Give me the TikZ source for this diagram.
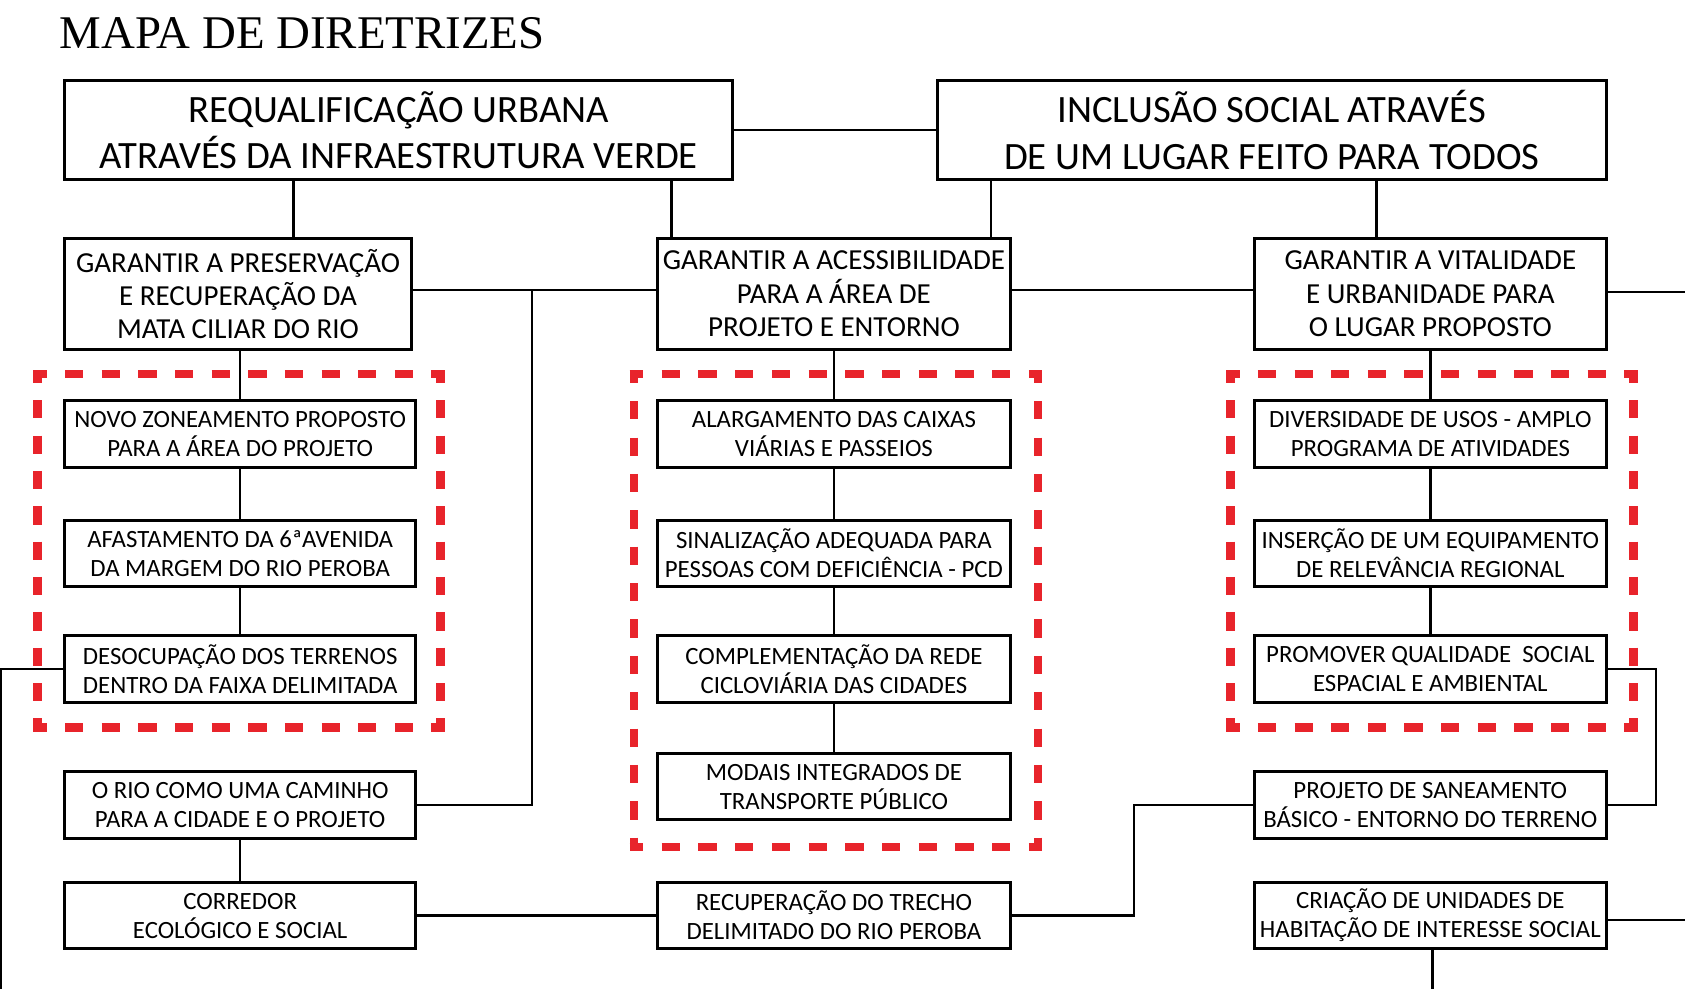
\documentclass[tikz,border=0pt]{standalone}
\usepackage{fontspec}
\setmainfont{Liberation Serif}
\newfontfamily\boxfont{Carlito}
\definecolor{dashred}{HTML}{E8242B}
\begin{document}
\begin{tikzpicture}[x=0.5pt,y=-0.5pt,
  box/.style={draw=black, line width=1.4pt, fill=white, inner sep=0pt, align=center},
  sbox/.style={box, minimum width=164pt, minimum height=31pt, font=\boxfont\fontsize{11.55}{13.5}\selectfont},
  gbox/.style={box, minimum width=164pt, minimum height=51.5pt, font=\boxfont\fontsize{13.5}{15.5}\selectfont},
  tbox/.style={box, minimum width=311.5pt, minimum height=46pt, font=\boxfont\fontsize{18}{21.5}\selectfont},
  conn/.style={line width=1.1pt, draw=black},
  redh/.style={draw=dashred, line width=4pt, dash phase=2.25pt},
  redv/.style={draw=dashred, line width=4pt, dash phase=4.25pt}
]
\useasboundingbox (0,0) rectangle (1568,920);
\fill[white] (0,0) rectangle (1568,920);

% title
\node[anchor=base west, inner sep=0pt, font=\fontsize{21.8}{24}\selectfont] (title) at (55,45) {MAPA DE DIRETRIZES};

% red dashed frames
\draw[redh, dash pattern=on 8.5pt off 8.545pt] (31,348) -- (414,348);
\draw[redh, dash pattern=on 8.5pt off 8.545pt] (31,677) -- (414,677);
\draw[redv, dash pattern=on 8.5pt off 7.95pt] (35,348) -- (35,677);
\draw[redv, dash pattern=on 8.5pt off 7.95pt] (410,348) -- (410,677);

\draw[redh, dash pattern=on 8.5pt off 8.591pt] (586,348) -- (970,348);
\draw[redh, dash pattern=on 8.5pt off 8.591pt] (586,788) -- (970,788);
\draw[redv, dash pattern=on 8.5pt off 8.423pt] (590,348) -- (590,788);
\draw[redv, dash pattern=on 8.5pt off 8.423pt] (966,348) -- (966,788);

\draw[redh, dash pattern=on 8.5pt off 8.545pt] (1141,348) -- (1524,348);
\draw[redh, dash pattern=on 8.5pt off 8.545pt] (1141,677) -- (1524,677);
\draw[redv, dash pattern=on 8.5pt off 7.95pt] (1145,348) -- (1145,677);
\draw[redv, dash pattern=on 8.5pt off 7.95pt] (1520,348) -- (1520,677);

% top boxes
\node[tbox, minimum width=311pt] (T1) at (371,121) {REQUALIFICAÇÃO URBANA\\ATRAVÉS DA INFRAESTRUTURA VERDE};
\node[tbox] (T2) at (1183.5,121) {INCLUSÃO SOCIAL ATRAVÉS\\DE UM LUGAR FEITO PARA TODOS};

% second row
\node[gbox, minimum width=161.5pt] (G1) at (221.5,273.5) {GARANTIR A PRESERVAÇÃO\\E RECUPERAÇÃO DA\\MATA CILIAR DO RIO};
\node[gbox] (G2) at (776,273.5) {GARANTIR A ACESSIBILIDADE\\PARA A ÁREA DE\\PROJETO E ENTORNO};
\node[gbox] (G3) at (1331,273.5) {GARANTIR A VITALIDADE\\E URBANIDADE PARA\\O LUGAR PROPOSTO};

% left column
\node[sbox, minimum width=163.5pt] (L1) at (223.5,404) {NOVO ZONEAMENTO PROPOSTO\\PARA A ÁREA DO PROJETO};
\node[sbox, minimum width=163.5pt] (L2) at (223.5,515) {AFASTAMENTO DA 6ªAVENIDA\\DA MARGEM DO RIO PEROBA};
\node[sbox, minimum width=163.5pt, minimum height=31.5pt] (L3) at (223.5,622.5) {DESOCUPAÇÃO DOS TERRENOS\\DENTRO DA FAIXA DELIMITADA};
\node[sbox, minimum width=163.5pt] (R1) at (223.5,749) {O RIO COMO UMA CAMINHO\\PARA A CIDADE E O PROJETO};
\node[sbox, minimum width=163.5pt] (C1) at (223.5,852) {CORREDOR\\ECOLÓGICO E SOCIAL};

% middle column
\node[sbox] (M1) at (776,404) {ALARGAMENTO DAS CAIXAS\\VIÁRIAS E PASSEIOS};
\node[sbox] (M2) at (776,515) {SINALIZAÇÃO ADEQUADA PARA\\PESSOAS COM DEFICIÊNCIA - PCD};
\node[sbox, minimum height=31.5pt] (M3) at (776,622.5) {COMPLEMENTAÇÃO DA REDE\\CICLOVIÁRIA DAS CIDADES};
\node[sbox] (M4) at (776,732) {MODAIS INTEGRADOS DE\\TRANSPORTE PÚBLICO};
\node[sbox] (M5) at (776,852) {RECUPERAÇÃO DO TRECHO\\DELIMITADO DO RIO PEROBA};

% right column
\node[sbox] (D1) at (1331,404) {DIVERSIDADE DE USOS - AMPLO\\PROGRAMA DE ATIVIDADES};
\node[sbox] (D2) at (1331,515) {INSERÇÃO DE UM EQUIPAMENTO\\DE RELEVÂNCIA REGIONAL};
\node[sbox, minimum height=31.5pt] (D3) at (1331,622.5) {PROMOVER QUALIDADE\ \ SOCIAL\\ESPACIAL E AMBIENTAL};
\node[sbox] (S1) at (1331,749) {PROJETO DE SANEAMENTO\\BÁSICO - ENTORNO DO TERRENO};
\node[sbox] (H1) at (1331,852) {CRIAÇÃO DE UNIDADES DE\\HABITAÇÃO DE INTERESSE SOCIAL};

% helper coordinates
\coordinate (hy) at (0,270);
\coordinate (a1) at (273,0);
\coordinate (a2) at (625,0);
\coordinate (a3) at (922,0);
\coordinate (a4) at (1281,0);
\coordinate (j1) at (495,270);
\coordinate (e1) at (1568,272);
\coordinate (lb) at (1,920);
\coordinate (j2) at (1055,800);
\coordinate (rb) at (1541,700);
\coordinate (e2) at (1568,856);
\coordinate (hb) at (1333,920);

% connectors
\draw[conn] (T1.east) -- (T2.west);
\draw[conn] (T1.south -| a1) -- (G1.north -| a1);
\draw[conn] (T1.south -| a2) -- (G2.north -| a2);
\draw[conn] (T2.south -| a3) -- (G2.north -| a3);
\draw[conn] (T2.south -| a4) -- (G3.north -| a4);
\draw[conn] (G1.east |- hy) -- (G2.west |- hy);
\draw[conn] (j1) |- (R1.east);
\draw[conn] (G2.east |- hy) -- (G3.west |- hy);
\draw[conn] (G3.east |- e1) -- (e1);

\draw[conn] (L1.north |- G1.south) -- (L1.north);
\draw[conn] (L1.south) -- (L2.north);
\draw[conn] (L2.south) -- (L3.north);
\draw[conn] (R1.south) -- (C1.north);
\draw[conn] (L3.west) -| (lb);
\draw[conn] (C1.east) -- (M5.west);

\draw[conn] (G2.south) -- (M1.north);
\draw[conn] (M1.south) -- (M2.north);
\draw[conn] (M2.south) -- (M3.north);
\draw[conn] (M3.south) -- (M4.north);
\draw[conn] (M5.east) -| (j2) |- (S1.west);

\draw[conn] (G3.south) -- (D1.north);
\draw[conn] (D1.south) -- (D2.north);
\draw[conn] (D2.south) -- (D3.north);
\draw[conn] (D3.east) -| (rb) |- (S1.east);
\draw[conn] (H1.east |- e2) -- (e2);
\draw[conn] (H1.south -| hb) -- (hb);
\end{tikzpicture}
\end{document}
